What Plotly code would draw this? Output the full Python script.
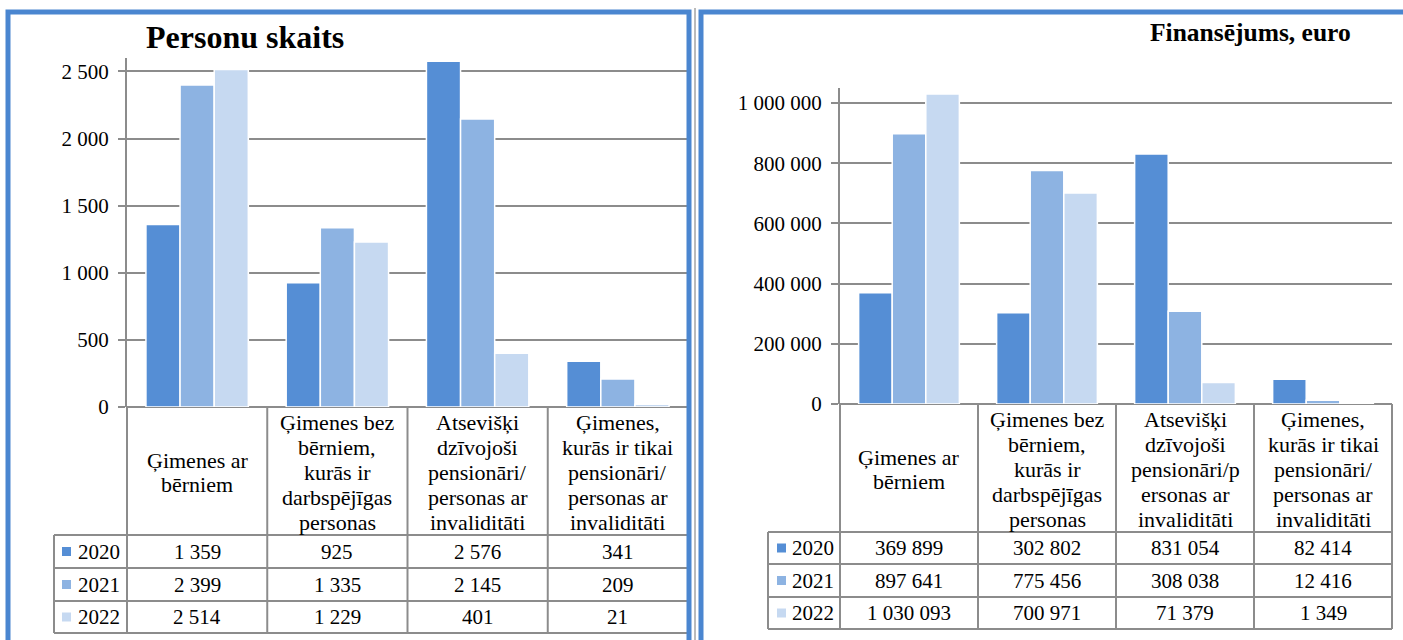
import plotly.graph_objects as go

# ---------------- data ----------------
years = ["2020", "2021", "2022"]
categories = [
    "Ģimenes ar bērniem",
    "Ģimenes bez bērniem, kurās ir darbspējīgas personas",
    "Atsevišķi dzīvojoši pensionāri/personas ar invaliditāti",
    "Ģimenes, kurās ir tikai pensionāri/personas ar invaliditāti",
]
header_people = [
    ["Ģimenes ar", "bērniem"],
    ["Ģimenes bez", "bērniem,", "kurās ir", "darbspējīgas", "personas"],
    ["Atsevišķi", "dzīvojoši", "pensionāri/", "personas ar", "invaliditāti"],
    ["Ģimenes,", "kurās ir tikai", "pensionāri/", "personas ar", "invaliditāti"],
]
header_finance = [
    ["Ģimenes ar", "bērniem"],
    ["Ģimenes bez", "bērniem,", "kurās ir", "darbspējīgas", "personas"],
    ["Atsevišķi", "dzīvojoši", "pensionāri/p", "ersonas ar", "invaliditāti"],
    ["Ģimenes,", "kurās ir tikai", "pensionāri/", "personas ar", "invaliditāti"],
]
people_2020 = [1359, 925, 2576, 341]
people_2021 = [2399, 1335, 2145, 209]
people_2022 = [2514, 1229, 401, 21]
finance_2020 = [369899, 302802, 831054, 82414]
finance_2021 = [897641, 775456, 308038, 12416]
finance_2022 = [1030093, 700971, 71379, 1349]

people_ticks = [0, 500, 1000, 1500, 2000, 2500]
finance_ticks = [0, 200000, 400000, 600000, 800000, 1000000]

title_people = "Personu skaits"
title_finance = "Finansējums, euro"

# ---------------- style ----------------
W, H = 1403, 640
colors = ["#558ed5", "#8db3e2", "#c6d9f1"]
GRID = "#8c8c8c"
BORDER = "#4a86d0"
FONT = "Liberation Serif"
NUM_SIZE = 21
HEAD_SIZE = 22
LINE_STEP = 24.8


def px(x):
    return x / W


def py(y):
    return 1 - y / H


def fmt(v):
    return f"{v:,}".replace(",", " ")


people = [people_2020, people_2021, people_2022]
finance = [finance_2020, finance_2021, finance_2022]

fig = go.Figure()
for i, y in enumerate(years):
    fig.add_trace(go.Bar(x=categories, y=people[i], name=y, marker_color=colors[i],
                         marker_line=dict(color="white", width=1.5),
                         xaxis="x", yaxis="y", showlegend=False, hoverinfo="x+y"))
for i, y in enumerate(years):
    fig.add_trace(go.Bar(x=categories, y=finance[i], name=y, marker_color=colors[i],
                         marker_line=dict(color="white", width=1.5),
                         xaxis="x2", yaxis="y2", showlegend=False, hoverinfo="x+y"))

# panel geometry (pixels)
panels = [
    dict(xl=127, xr=688, y0=407, ytop=58, rows=[535, 568, 601, 633], legl=54,
         sq=62, txt=76, ymax=2600, ticks=people_ticks, data=people,
         headers=header_people),
    dict(xl=840, xr=1392, y0=404, ytop=88, rows=[532, 564, 597, 629], legl=768,
         sq=777, txt=790, ymax=1050000, ticks=finance_ticks, data=finance,
         headers=header_finance),
]

axis_common = dict(
    showline=True, linecolor=GRID, linewidth=2,
    ticks="outside", ticklen=7, tickcolor=GRID, tickwidth=2,
    showgrid=True, gridcolor=GRID, gridwidth=2,
    zeroline=True, zerolinecolor=GRID, zerolinewidth=2,
    tickfont=dict(family=FONT, size=NUM_SIZE, color="black"),
    ticklabelstandoff=5,
    automargin=False,
    fixedrange=True,
)
xaxis_common = dict(showticklabels=False, showgrid=False, zeroline=False,
                    showline=False, ticks="", fixedrange=True, automargin=False)

p0, p1 = panels
fig.update_layout(
    template="none",
    font=dict(family=FONT, color="black"),
    xaxis=dict(domain=[px(p0["xl"]), px(p0["xr"])], anchor="y", **xaxis_common),
    yaxis=dict(domain=[py(p0["y0"]), py(p0["ytop"])], anchor="x",
               range=[0, p0["ymax"]], tickvals=p0["ticks"],
               ticktext=[fmt(t) for t in p0["ticks"]], **axis_common),
    xaxis2=dict(domain=[px(p1["xl"]), px(p1["xr"])], anchor="y2", **xaxis_common),
    yaxis2=dict(domain=[py(p1["y0"]), py(p1["ytop"])], anchor="x2",
                range=[0, p1["ymax"]], tickvals=p1["ticks"],
                ticktext=[fmt(t) for t in p1["ticks"]], **axis_common),
)

shapes = []
annotations = []
line = dict(color=GRID, width=2)

for p in panels:
    n = len(categories)
    cw = (p["xr"] - p["xl"]) / n
    xs = [p["xl"] + k * cw for k in range(n + 1)]
    rows = p["rows"]
    bottom = rows[-1]
    for x in xs:
        shapes.append(dict(type="line", xref="paper", yref="paper",
                           x0=px(x), x1=px(x), y0=py(p["y0"]), y1=py(bottom), line=line))
    shapes.append(dict(type="line", xref="paper", yref="paper",
                       x0=px(p["legl"]), x1=px(p["legl"]), y0=py(rows[0]), y1=py(bottom), line=line))
    for r in rows:
        shapes.append(dict(type="line", xref="paper", yref="paper",
                           x0=px(p["legl"]), x1=px(p["xr"]), y0=py(r), y1=py(r), line=line))
    # header texts: one annotation per line for tight line spacing
    hc = (p["y0"] + rows[0]) / 2 + 1.5
    for k, lines in enumerate(p["headers"]):
        m = len(lines)
        for j, t in enumerate(lines):
            yl = hc + (j - (m - 1) / 2) * LINE_STEP
            annotations.append(dict(xref="paper", yref="paper", x=px((xs[k] + xs[k + 1]) / 2),
                                    y=py(yl), text=t, showarrow=False,
                                    xanchor="center", yanchor="middle",
                                    font=dict(family=FONT, size=HEAD_SIZE, color="black")))
    for i, yr in enumerate(years):
        yc = (rows[i] + rows[i + 1]) / 2
        shapes.append(dict(type="rect", xref="paper", yref="paper",
                           x0=px(p["sq"]), x1=px(p["sq"] + 9), y0=py(yc - 4.5), y1=py(yc + 4.5),
                           fillcolor=colors[i], line=dict(width=0)))
        annotations.append(dict(xref="paper", yref="paper", x=px(p["txt"]), y=py(yc),
                                text=yr, showarrow=False, xanchor="left", yanchor="middle",
                                font=dict(family=FONT, size=NUM_SIZE, color="black")))
        for k in range(n):
            annotations.append(dict(xref="paper", yref="paper", x=px((xs[k] + xs[k + 1]) / 2),
                                    y=py(yc), text=fmt(p["data"][i][k]), showarrow=False,
                                    xanchor="center", yanchor="middle",
                                    font=dict(family=FONT, size=NUM_SIZE, color="black")))

# panel frames
shapes.append(dict(type="rect", xref="paper", yref="paper", x0=px(8), x1=px(689),
                   y0=py(12), y1=py(660), line=dict(color=BORDER, width=5)))
shapes.append(dict(type="rect", xref="paper", yref="paper", x0=px(701), x1=px(1420),
                   y0=py(12), y1=py(660), line=dict(color=BORDER, width=5)))
shapes.append(dict(type="line", xref="paper", yref="paper", x0=px(695), x1=px(695),
                   y0=py(8), y1=py(660), line=dict(color="#777777", width=1)))

# titles
annotations.append(dict(xref="paper", yref="paper", x=px(245), y=py(37), text=f"<b>{title_people}</b>",
                        showarrow=False, xanchor="center", yanchor="middle",
                        font=dict(family=FONT, size=32, color="black")))
annotations.append(dict(xref="paper", yref="paper", x=px(1250), y=py(32), text=f"<b>{title_finance}</b>",
                        showarrow=False, xanchor="center", yanchor="middle",
                        font=dict(family=FONT, size=25.5, color="black")))

fig.update_layout(
    width=W, height=H, autosize=False,
    margin=dict(l=0, r=0, t=0, b=0, pad=0),
    paper_bgcolor="white", plot_bgcolor="white",
    barmode="group", bargap=0.27, bargroupgap=0,
    shapes=shapes, annotations=annotations,
    separators=", ",
    showlegend=False,
)

fig.write_html("out.html", config={"displayModeBar": False},
               post_script="document.body.style.margin='0';document.body.style.overflow='hidden';")
